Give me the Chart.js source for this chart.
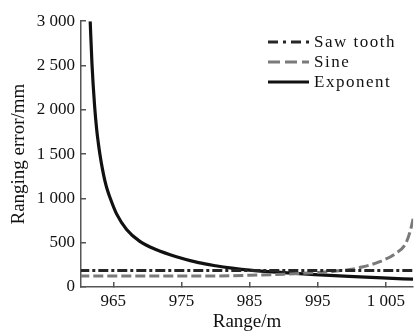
<!DOCTYPE html>
<html>
<head>
<meta charset="utf-8">
<script src="https://cdn.jsdelivr.net/npm/chart.js@4.4.1/dist/chart.umd.min.js"></script>
<style>
  html, body { margin: 0; padding: 0; background: #fff; }
  #wrap { width: 414px; height: 332px; }
</style>
</head>
<body>
<div id="wrap"><canvas id="myChart"></canvas></div>
<script>
// values: range in m, ranging error in mm
const sawRange = [960, 1009];
const sawError = [185, 185];

const sineRange = [960, 980, 985, 990, 995, 997, 999.5, 1001.5, 1004, 1006.4, 1007.9, 1008.6, 1009];
const sineError = [125, 125, 132, 145, 163, 175, 195, 225, 283, 377, 489, 638, 770];

const expRange = [961.6, 961.86, 962.25, 962.55, 962.8, 963.03, 963.4, 963.76, 964.1, 964.5, 965.47, 966.94, 968.89, 971.33, 974.25, 977.5, 980, 982.4, 985, 990, 994.6, 1000.4, 1004.5, 1009];
const expError = [3000, 2520, 2040, 1780, 1620, 1496, 1330, 1197, 1100, 1010, 825, 650, 515, 420, 342, 275, 240, 213, 190, 162, 140, 117, 102, 88];

const xTicks = [965, 975, 985, 995, 1005];
const yTicks = [0, 500, 1000, 1500, 2000, 2500, 3000];

const serif = '"Liberation Serif", "Times New Roman", serif';

// 3000 -> "3 000"
function spaced(n) {
    if (n < 1000) return String(n);
    return Math.floor(n / 1000) + ' ' + String(n % 1000).padStart(3, '0');
}

function toPoints(xs, ys) {
    return xs.map((x, i) => ({ x: x, y: ys[i] }));
}

// legend drawn top right, inside the plot
const lineLegend = {
    id: 'lineLegend',
    afterDraw(chart) {
        const ctx = chart.ctx;
        ctx.save();
        ctx.font = '17px ' + serif;
        ctx.letterSpacing = '1.5px';
        ctx.textBaseline = 'middle';
        chart.data.datasets.forEach((ds, i) => {
            const y = 42 + i * 20;
            ctx.strokeStyle = ds.borderColor;
            ctx.lineWidth = ds.borderWidth;
            ctx.setLineDash(ds.legendDash || []);
            ctx.beginPath();
            ctx.moveTo(268, y);
            ctx.lineTo(309, y);
            ctx.stroke();
            ctx.fillStyle = '#111';
            ctx.fillText(ds.label, 314, y + 1);
        });
        ctx.restore();
    }
};

const ctx = document.getElementById('myChart').getContext('2d');
const myChart = new Chart(ctx, {
    type: 'line',
    data: {
        datasets: [{
            label: 'Saw tooth',
            data: toPoints(sawRange, sawError),
            borderColor: '#262626',
            borderWidth: 3,
            borderDash: [10, 3, 3, 3],
            legendDash: [10, 5, 3, 5],
            pointRadius: 0
        }, {
            label: 'Sine',
            data: toPoints(sineRange, sineError),
            borderColor: '#7a7a7a',
            borderWidth: 3,
            borderDash: [10, 4],
            legendDash: [12, 5],
            cubicInterpolationMode: 'monotone',
            pointRadius: 0
        }, {
            label: 'Exponent',
            data: toPoints(expRange, expError),
            borderColor: '#111',
            borderWidth: 3.2,
            legendDash: [],
            cubicInterpolationMode: 'monotone',
            pointRadius: 0
        }]
    },
    options: {
        responsive: true,
        maintainAspectRatio: false,
        animation: false,
        layout: { padding: { top: 19, right: 0, bottom: 0, left: 0 } },
        plugins: {
            legend: { display: false },
            tooltip: { enabled: false }
        },
        scales: {
            x: {
                type: 'linear',
                min: 960.25,
                max: 1009,
                afterBuildTicks: axis => { axis.ticks = xTicks.map(v => ({ value: v })); },
                afterFit: axis => { axis.height = 45; },
                grid: { drawOnChartArea: false, tickLength: -5, color: '#555', lineWidth: 1.5 },
                border: { color: '#555', width: 1.5 },
                ticks: {
                    callback: v => spaced(v),
                    font: { family: serif, size: 17 },
                    color: '#111',
                    padding: 9,
                    maxRotation: 0,
                    autoSkip: false
                },
                title: {
                    display: true,
                    text: 'Range/m',
                    font: { family: serif, size: 19, lineHeight: 1 },
                    color: '#111',
                    padding: { top: 0, bottom: 0 }
                }
            },
            y: {
                min: 0,
                max: 3000,
                afterBuildTicks: axis => { axis.ticks = yTicks.map(v => ({ value: v })); },
                afterFit: axis => { axis.width = 81; },
                grid: { drawOnChartArea: false, tickLength: -5, color: '#555', lineWidth: 1.5 },
                border: { color: '#555', width: 1.5 },
                ticks: {
                    callback: v => spaced(v),
                    font: { family: serif, size: 17 },
                    color: '#111',
                    padding: 11
                },
                title: {
                    display: true,
                    text: 'Ranging error/mm',
                    font: { family: serif, size: 19, lineHeight: 1 },
                    color: '#111',
                    padding: { top: 10, bottom: 0 }
                }
            }
        }
    },
    plugins: [lineLegend]
});
</script>
</body>
</html>
